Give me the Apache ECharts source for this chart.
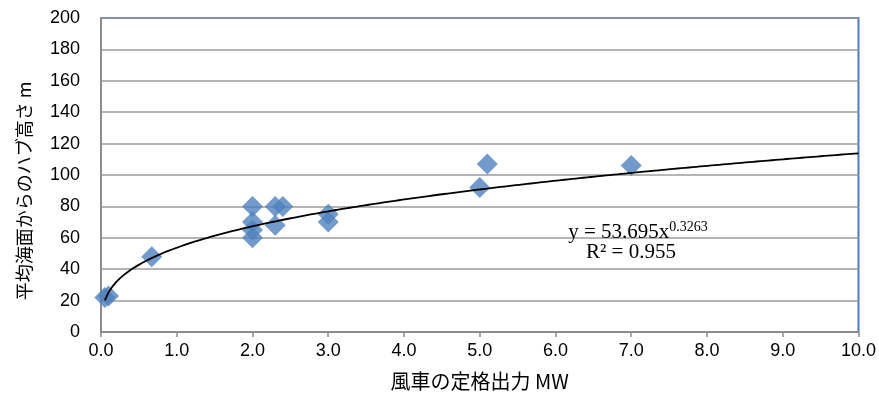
<!DOCTYPE html>
<html>
    <head>
        <meta content="text/html; charset=utf-8" http-equiv="Content-Type">
        <title>風車の定格出力とハブ高さ</title>
        <style>
            html, body { margin: 0; padding: 0; background: #fff; }
            #chart { width: 879px; height: 396px; }
        </style>
        <script src="https://cdn.jsdelivr.net/npm/echarts@6/dist/echarts.min.js"></script>
    </head>
    <body>
        <div id="chart"></div>
        <script>
// 風車の定格出力 (MW) とハブ高さ (m)
var powerMW   = [0.05, 0.1, 0.67, 2.0, 2.0, 2.0, 2.0, 2.3, 2.3, 2.4, 3.0, 3.0, 5.0, 5.1, 7.0];
var hubHeight = [22,   23,  48,   80,  70,  65,  60,  80,  68,  80,  75,  70,  92,  107, 106];

// 累乗近似 y = a * x^b
var trendA = 53.695;
var trendB = 0.3263;
var trendR2 = 0.955;

var xTicks = ['0.0','1.0','2.0','3.0','4.0','5.0','6.0','7.0','8.0','9.0','10.0'];
var yTicks = [0, 20, 40, 60, 80, 100, 120, 140, 160, 180, 200];

var scatterData = powerMW.map(function (x, i) { return [x, hubHeight[i]]; });

var trendData = [];
var xMin = Math.min.apply(null, powerMW);
for (var k = 0; k <= 200; k++) {
    var x = xMin + (10 - xMin) * k / 200;
    trendData.push([x, trendA * Math.pow(x, trendB)]);
}

var chart = echarts.init(document.getElementById('chart'));
var option = {
    animation: false,
    grid: {
        left: 101, right: 20, top: 18, bottom: 61,
        show: true, borderColor: '#4a7ebb', borderWidth: 2, backgroundColor: '#fff'
    },
    xAxis: {
        type: 'value', min: 0, max: 10, interval: 1,
        name: '風車の定格出力 MW', nameLocation: 'middle', nameGap: 39,
        nameTextStyle: { fontFamily: 'Noto Sans CJK JP', fontSize: 20, color: '#000' },
        axisLine: { show: true, lineStyle: { color: '#8c8c8c', width: 2 } },
        axisTick: { show: true, length: 5, lineStyle: { color: '#8c8c8c', width: 1.5 } },
        axisLabel: {
            margin: 10, fontFamily: 'Liberation Sans', fontSize: 18, color: '#000',
            formatter: function (v) { return xTicks[Math.round(v)]; }
        },
        splitLine: { show: false }
    },
    yAxis: {
        type: 'value', min: 0, max: 200, interval: 20,
        name: '平均海面からのハブ高さ m', nameLocation: 'middle', nameGap: 68, nameRotate: 90,
        nameTextStyle: { fontFamily: 'Noto Sans CJK JP', fontSize: 18, color: '#000', padding: [0, 32, 0, 0] },
        axisLine: { show: true, lineStyle: { color: '#8c8c8c', width: 2 } },
        axisTick: { show: false },
        axisLabel: {
            margin: 21, fontFamily: 'Liberation Sans', fontSize: 18, color: '#000',
            formatter: function (v) { return yTicks.indexOf(v) >= 0 ? String(v) : ''; }
        },
        splitLine: { show: true, lineStyle: { color: '#9c9c9c', width: 1.5 } }
    },
    series: [{
        type: 'scatter',
        symbol: 'diamond',
        symbolSize: 21,
        itemStyle: { color: '#4f81bd' },
        data: scatterData,
        z: 2
    }, {
        type: 'line',
        showSymbol: false,
        symbol: 'none',
        lineStyle: { color: '#000', width: 1.8 },
        data: trendData,
        z: 3
    }],
    graphic: [{
        type: 'text',
        x: 638, y: 232,
        style: {
            text: '{a|y = ' + trendA + 'x}{b|' + trendB + '}',
            align: 'center', verticalAlign: 'middle',
            rich: {
                a: { fontFamily: 'Liberation Serif', fontSize: 21, color: '#000', lineHeight: 24 },
                b: { fontFamily: 'Liberation Serif', fontSize: 14, color: '#000', verticalAlign: 'top', lineHeight: 14, padding: [0, 0, 9, 0] }
            }
        },
        z: 10
    }, {
        type: 'text',
        x: 631, y: 252,
        style: {
            text: 'R² = ' + trendR2,
            align: 'center', verticalAlign: 'middle',
            fontFamily: 'Liberation Serif', fontSize: 21, fill: '#000'
        },
        z: 10
    }]
};
chart.setOption(option);
        </script>
    </body>
</html>
